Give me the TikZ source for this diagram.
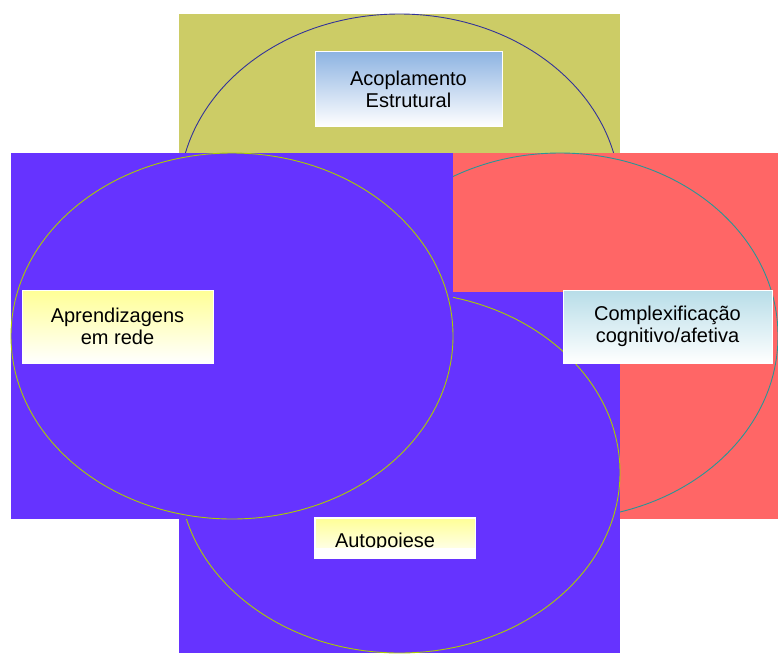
\documentclass[tikz,border=0pt]{standalone}
\usepackage{fontspec}
\setmainfont{Liberation Sans}
\definecolor{myolive}{RGB}{204,204,102}
\definecolor{myviolet}{RGB}{102,51,255}
\definecolor{mycoral}{RGB}{255,102,102}
\definecolor{mynavy}{RGB}{51,51,153}
\definecolor{mylime}{RGB}{170,204,0}
\definecolor{myteal}{RGB}{40,150,150}
\definecolor{myskyblue}{RGB}{141,179,226}
\definecolor{mylightcyan}{RGB}{183,221,232}
\definecolor{mylightyellow}{RGB}{255,255,150}
\usetikzlibrary{positioning,calc}
\tikzstyle{textbox}=[draw=white,line width=0.8pt,bottom color=white,inner sep=0pt,align=center,font=\fontsize{20}{22}\selectfont]
\tikzstyle{ring}=[line width=0.9pt]

\begin{document}
\begin{tikzpicture}[x=1pt,y=-1pt]
\useasboundingbox (0,0) rectangle (778,653);

% four coloured panels, each with its ellipse
\fill[myolive] (179,14) rectangle (620,380);
\draw[ring,mynavy] (399.5,197) ellipse [x radius=220.5pt,y radius=183pt];
\fill[mycoral] (337,153) rectangle (778,519);
\draw[ring,myteal] (560,336) ellipse [x radius=218pt,y radius=183pt];
\fill[myviolet] (179,292) rectangle (620,653);
\draw[ring,mylime] (399.5,472.5) ellipse [x radius=220.5pt,y radius=180.5pt];
\fill[myviolet] (11,153) rectangle (453,519);
\draw[ring,mylime] (232,336) ellipse [x radius=221pt,y radius=183pt];

\node[textbox,top color=myskyblue,minimum width=187pt,minimum height=75pt] (acoplamento) at (408.5,89) {Acoplamento\\Estrutural};
\node[textbox,top color=mylightyellow,minimum width=191pt,minimum height=73pt] (aprendizagens) at (117.5,326.5) {Aprendizagens\\em rede};
\node[textbox,top color=mylightcyan,minimum width=209pt,minimum height=73pt] (complexificacao) at (667.5,326.5) {Complexificação\\cognitivo/afetiva};

\begin{scope}
\clip (300,500) rectangle (500,547.5);
\node[textbox,top color=mylightyellow,minimum width=160pt,minimum height=40pt,text width=120pt,align=left] (autopoiese) at (395,538) {\raisebox{-4pt}[\height][\depth]{Autopoiese}};
\end{scope}
\fill[white] (autopoiese.west |- 0,547.5) rectangle (autopoiese.south east);
\draw[white,line width=0.8pt] (autopoiese.north west) rectangle (autopoiese.south east);
\end{tikzpicture}
\end{document}
